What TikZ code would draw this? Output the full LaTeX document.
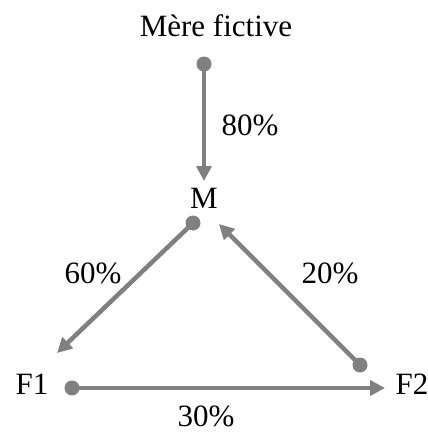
\documentclass[tikz,border=0pt]{standalone}
\usepackage{fontspec}
\setmainfont{Liberation Serif}
\usetikzlibrary{arrows.meta}
\definecolor{linegray}{RGB}{128,128,128}
\begin{document}
\begin{tikzpicture}[x=1pt,y=-1pt,
  lbl/.style={font=\fontsize{31}{31}\selectfont, anchor=base, inner sep=0pt},
  conn/.style={draw=linegray, line width=4.5pt, -{Triangle[length=15pt,width=15pt]}},
  dot/.style={fill=linegray}]
\useasboundingbox (0,0) rectangle (428,434);
% texts
\node[lbl] (mere) at (216,36) {Mère fictive};
\node[lbl] (m) at (204,208) {M};
\node[lbl] (f1) at (32,394) {F1};
\node[lbl] (f2) at (412,394) {F2};
\node[lbl] (l80) at (250,135) {80\%};
\node[lbl] (l60) at (93,283) {60\%};
\node[lbl] (l20) at (330,283) {20\%};
\node[lbl] (l30) at (206,426) {30\%};
% dots and tips
\coordinate (d1) at (204,64);
\coordinate (t1) at (204,181);
\coordinate (d2) at (193,223);
\coordinate (t2) at (57,353);
\coordinate (d3) at (360,365);
\coordinate (t3) at (219,224);
\coordinate (d4) at (72,388);
\coordinate (t4) at (385,388);
\foreach \d in {d1,d2,d3,d4} \fill[dot] (\d) circle (7.5);
\draw[conn] (d1) -- (t1);
\draw[conn] (d2) -- (t2);
\draw[conn] (d3) -- (t3);
\draw[conn] (d4) -- (t4);
\end{tikzpicture}
\end{document}
